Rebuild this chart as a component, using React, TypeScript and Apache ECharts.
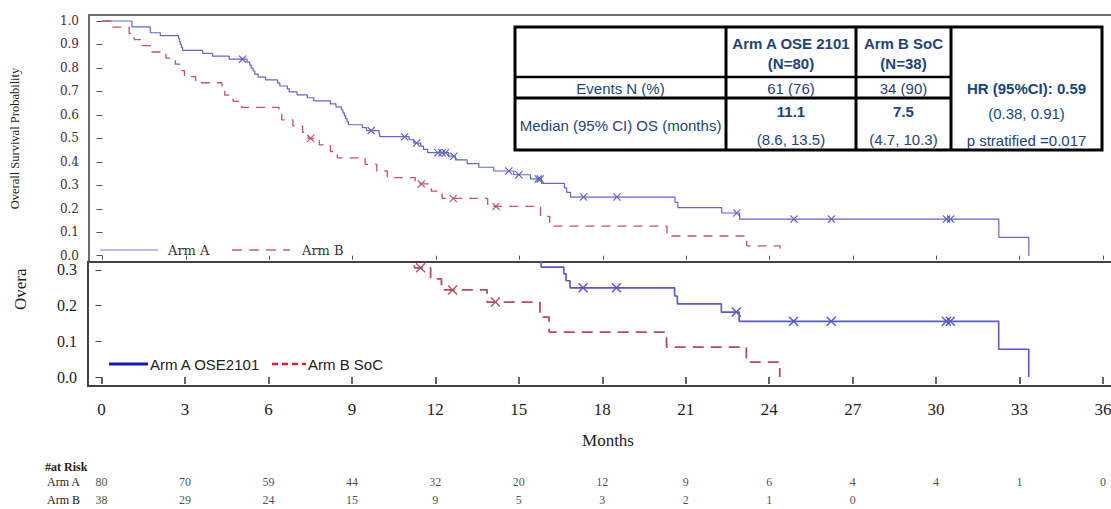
import React, { useEffect, useRef } from "react";
import * as echarts from "echarts";

// ---------- data ----------
const monthTicks = [0, 3, 6, 9, 12, 15, 18, 21, 24, 27, 30, 33, 36];
const topYTicks = [0, 0.1, 0.2, 0.3, 0.4, 0.5, 0.6, 0.7, 0.8, 0.9, 1.0];
const bottomYTicks = [0, 0.1, 0.2, 0.3];

// Arm A (OSE2101) step points: time of drop, survival after drop
const armATimes = [
  0, 1.06, 1.72, 2.08, 2.74, 2.77, 2.8, 2.84, 2.88, 3.6, 3.96, 4.56,
  5.2, 5.3, 5.35, 5.42, 5.48, 5.6, 5.87,
  6.3, 6.38, 6.65, 6.72, 7.0, 7.37, 7.6, 8.2, 8.4, 8.6, 8.65, 8.7, 8.75, 8.8, 8.85,
  9.35, 9.5, 9.95, 9.98, 11.03, 11.2, 11.45, 11.55, 11.7,
  12.46, 12.7, 13.12, 13.54, 14.08, 14.8, 15.4,
  15.8, 16.62, 16.7, 16.84, 20.6, 20.7, 22.28, 22.92, 32.25, 33.33,
];
const armASurv = [
  1.0, 0.975, 0.95, 0.9375, 0.925, 0.9125, 0.9, 0.8875, 0.875, 0.8625, 0.85, 0.8375,
  0.825, 0.812, 0.799, 0.787, 0.774, 0.761, 0.749,
  0.736, 0.723, 0.711, 0.698, 0.685, 0.673, 0.66, 0.647, 0.634, 0.622, 0.609, 0.596, 0.584, 0.571, 0.558,
  0.546, 0.533, 0.52, 0.507, 0.494, 0.48, 0.467, 0.453, 0.439,
  0.424, 0.408, 0.392, 0.377, 0.361, 0.345, 0.327,
  0.308, 0.289, 0.27, 0.25, 0.227, 0.205, 0.182, 0.156, 0.078, 0,
];
const armACensorTimes = [
  5.04, 9.67, 10.87, 11.3, 12.07, 12.22, 12.34, 12.64, 14.62, 14.98,
  15.68, 15.75, 17.31, 18.51, 22.82, 24.88, 26.23, 30.37, 30.51,
];
const armACensorSurv = [
  0.8375, 0.533, 0.507, 0.48, 0.439, 0.439, 0.439, 0.424, 0.361, 0.345,
  0.327, 0.327, 0.25, 0.25, 0.182, 0.156, 0.156, 0.156, 0.156,
];

// Arm B (SoC)
const armBTimes = [
  0, 0.33, 0.96, 1.14, 1.44, 1.74, 2.28, 2.62, 2.85, 2.95, 3.35, 4.3, 4.4, 4.7, 5.0,
  6.35, 6.45, 6.85, 7.2, 7.4, 7.8, 8.2, 8.45, 9.45, 9.87, 10.25, 11.25,
  11.83, 12.22, 13.86, 15.76, 16.09, 20.31, 23.18, 24.38,
];
const armBSurv = [
  1.0, 0.974, 0.947, 0.921, 0.895, 0.868, 0.842, 0.816, 0.789, 0.763, 0.737, 0.711, 0.684, 0.658, 0.632,
  0.605, 0.579, 0.553, 0.526, 0.5, 0.472, 0.444, 0.417, 0.389, 0.361, 0.333, 0.306,
  0.275, 0.244, 0.21, 0.168, 0.126, 0.084, 0.042, 0,
];
const armBCensorTimes = [7.49, 11.47, 12.62, 14.16];
const armBCensorSurv = [0.5, 0.306, 0.244, 0.21];

// Numbers at risk
const riskTimesA = [0, 3, 6, 9, 12, 15, 18, 21, 24, 27, 30, 33, 36];
const riskA = [80, 70, 59, 44, 32, 20, 12, 9, 6, 4, 4, 1, 0];
const riskTimesB = [0, 3, 6, 9, 12, 15, 18, 21, 24, 27];
const riskB = [38, 29, 24, 15, 9, 5, 3, 2, 1, 0];
const riskRows = ["Arm B", "Arm A"];

// ---------- layout ----------
const PX_PER_MONTH = 27.82;
const X_ZERO_PX = 101.5;
const GRID_LEFT = 88;
const GRID_WIDTH = 1040;
const CHART_W = 1140;
const X_MIN = (GRID_LEFT - X_ZERO_PX) / PX_PER_MONTH;
const X_MAX = X_MIN + GRID_WIDTH / PX_PER_MONTH;

const SERIF = "'Liberation Serif', 'Times New Roman', serif";
const SERIF_WIDE = "'DejaVu Serif', serif";
const SANS = "'Liberation Sans', Arial, sans-serif";
const TABLE_TXT = "#23437a";

const XSYM = "path://M0,1L1,0L5,4L9,0L10,1L6,5L10,9L9,10L5,6L1,10L0,9L4,5Z";

const pairs = (t: number[], v: number[]) => t.map((x, i) => [x, v[i]]);

function App() {
  const ref = useRef<HTMLDivElement>(null);

  useEffect(() => {
    if (!ref.current) return;
    const chart = echarts.init(ref.current, null, { renderer: "svg" });

    const xAxisBase = {
      type: "value",
      min: X_MIN,
      max: X_MAX,
      splitLine: { show: false },
      axisLine: { show: false },
    };

    const txt = (
      text: string,
      x: number,
      y: number,
      opts: { font?: string; fill?: string; align?: string } = {}
    ) => ({
      type: "text",
      x,
      y,
      z: 10,
      style: {
        text,
        font: opts.font || `15px ${SANS}`,
        fill: opts.fill || TABLE_TXT,
        align: opts.align || "center",
        textAlign: opts.align || "center",
        verticalAlign: "middle",
        textVerticalAlign: "middle",
      },
    });
    const hline = (x1: number, x2: number, y: number, w: number, stroke = "#000", dash?: number[]) => ({
      type: "line",
      z: 10,
      shape: { x1, y1: y, x2, y2: y },
      style: { stroke, lineWidth: w, lineDash: dash },
    });
    const vline = (x: number, y1: number, y2: number, w: number) => ({
      type: "line",
      z: 10,
      shape: { x1: x, y1, x2: x, y2 },
      style: { stroke: "#000", lineWidth: w },
    });

    const colA = 791;
    const colB = 903.5;
    const col0 = 620.5;
    const colHR = 1026.5;

    const graphic = [
      // results table
      { type: "rect", z: 9, shape: { x: 515, y: 27, width: 587, height: 123 }, style: { fill: "#fff", stroke: "#000", lineWidth: 3 } },
      vline(726, 27, 150, 3),
      vline(856, 27, 150, 3),
      vline(951, 27, 150, 3),
      hline(515, 951, 77, 2.5),
      hline(515, 951, 98, 3),
      txt("Arm A OSE 2101", colA, 43, { font: `bold 15px ${SANS}` }),
      txt("(N=80)", colA, 63, { font: `bold 15px ${SANS}` }),
      txt("Arm B SoC", colB, 43, { font: `bold 15px ${SANS}` }),
      txt("(N=38)", colB, 63, { font: `bold 15px ${SANS}` }),
      txt("Events N (%)", col0, 88),
      txt("61 (76)", colA, 88),
      txt("34 (90)", colB, 88),
      txt("Median (95% CI) OS (months)", col0, 125),
      txt("11.1", colA, 111, { font: `bold 15px ${SANS}` }),
      txt("(8.6, 13.5)", colA, 139),
      txt("7.5", colB, 111, { font: `bold 15px ${SANS}` }),
      txt("(4.7, 10.3)", colB, 139),
      txt("HR (95%CI): 0.59", colHR, 88, { font: `bold 15px ${SANS}` }),
      txt("(0.38, 0.91)", colHR, 113),
      txt("p stratified =0.017", colHR, 140),
      // top legend
      hline(100, 158, 250, 1.2, "#7a7ad6"),
      txt("Arm A", 168, 250, { font: `13px ${SERIF_WIDE}`, fill: "#333", align: "left" }),
      hline(232, 290, 250, 1.3, "#c8606e", [10, 7]),
      txt("Arm B", 302, 250, { font: `13px ${SERIF_WIDE}`, fill: "#333", align: "left" }),
      // bottom legend
      hline(109, 148, 364, 3, "#1515d0"),
      txt("Arm A OSE2101", 150, 364, { font: `15px ${SANS}`, fill: "#222", align: "left" }),
      hline(272, 306, 364, 2.5, "#e4202a", [6, 4]),
      txt("Arm B SoC", 308, 364, { font: `15px ${SANS}`, fill: "#222", align: "left" }),
      // clipped axis title of lower panel
      {
        type: "text",
        x: 20,
        y: 310,
        rotation: Math.PI / 2,
        style: {
          text: "Overa",
          font: `17px ${SERIF}`,
          fill: "#222",
          align: "left",
          textAlign: "left",
          verticalAlign: "middle",
          textVerticalAlign: "middle",
        },
      },
      // at-risk header
      txt("#at Risk", 45, 467, { font: `bold 12px ${SERIF}`, fill: "#222", align: "left" }),
    ];

    chart.setOption({
      animation: false,
      backgroundColor: "#fff",
      graphic,
      grid: [
        { left: GRID_LEFT, top: 15, width: GRID_WIDTH, height: 247, show: true, borderColor: "#6a6a6a", borderWidth: 2, backgroundColor: "transparent" },
        { left: GRID_LEFT, top: 262, width: GRID_WIDTH, height: 124, show: true, borderColor: "#444", borderWidth: 2, backgroundColor: "transparent" },
        { left: GRID_LEFT, top: 472.5, width: GRID_WIDTH, height: 38 },
      ],
      xAxis: [
        {
          ...xAxisBase,
          gridIndex: 0,
          axisTick: { show: true, inside: false, length: 4, customValues: monthTicks, lineStyle: { color: "#555" } },
          axisLabel: { show: false },
        },
        {
          ...xAxisBase,
          gridIndex: 1,
          name: "Months",
          nameLocation: "middle",
          nameGap: 46,
          nameTextStyle: { fontFamily: SERIF, fontSize: 17, color: "#222" },
          axisTick: { show: true, inside: false, length: 7, customValues: monthTicks, lineStyle: { color: "#333", width: 1.5 } },
          axisLabel: { show: true, customValues: monthTicks, margin: 15, fontFamily: SERIF, fontSize: 17, color: "#222" },
        },
        { ...xAxisBase, gridIndex: 2, show: false },
      ],
      yAxis: [
        {
          type: "value",
          gridIndex: 0,
          min: -0.0268,
          max: 1.0256,
          splitLine: { show: false },
          axisLine: { show: false },
          name: "Overall Survival Probability",
          nameLocation: "middle",
          nameRotate: 90,
          nameGap: 68,
          nameTextStyle: { fontFamily: SERIF, fontSize: 12.5, color: "#222" },
          axisTick: { show: true, inside: false, length: 6, customValues: topYTicks, lineStyle: { color: "#555" } },
          axisLabel: {
            customValues: topYTicks,
            margin: 10,
            fontFamily: SERIF_WIDE,
            fontSize: 12,
            color: "#333",
            formatter: (v: number) => v.toFixed(1),
          },
        },
        {
          type: "value",
          gridIndex: 1,
          min: -0.0252,
          max: 0.3224,
          splitLine: { show: false },
          axisLine: { show: false },
          axisTick: { show: true, inside: false, length: 6, customValues: bottomYTicks, lineStyle: { color: "#444" } },
          axisLabel: {
            customValues: bottomYTicks,
            margin: 11,
            fontFamily: SERIF,
            fontSize: 16,
            color: "#222",
            formatter: (v: number) => v.toFixed(1),
          },
        },
        {
          type: "category",
          gridIndex: 2,
          data: riskRows,
          axisLine: { show: false },
          axisTick: { show: false },
          splitLine: { show: false },
          axisLabel: { margin: 8, fontFamily: SERIF, fontSize: 12, color: "#222" },
        },
      ],
      series: [
        // top panel
        {
          type: "line", name: "Arm A", xAxisIndex: 0, yAxisIndex: 0, step: "end", symbol: "none", showSymbol: false,
          data: pairs(armATimes, armASurv), lineStyle: { color: "#6464d4", width: 1.2 }, itemStyle: { color: "#6464d4" }, clip: true, silent: true,
        },
        {
          type: "line", name: "Arm B", xAxisIndex: 0, yAxisIndex: 0, step: "end", symbol: "none", showSymbol: false,
          data: pairs(armBTimes, armBSurv), lineStyle: { color: "#c25464", width: 1.3, type: [9, 7] }, itemStyle: { color: "#c25464" }, clip: true, silent: true,
        },
        {
          type: "scatter", name: "Arm A censored", xAxisIndex: 0, yAxisIndex: 0, symbol: XSYM, symbolSize: 8,
          data: pairs(armACensorTimes, armACensorSurv), itemStyle: { color: "#3434b4" }, clip: true, silent: true,
        },
        {
          type: "scatter", name: "Arm B censored", xAxisIndex: 0, yAxisIndex: 0, symbol: XSYM, symbolSize: 8,
          data: pairs(armBCensorTimes, armBCensorSurv), itemStyle: { color: "#a8303e" }, clip: true, silent: true,
        },
        // bottom panel
        {
          type: "line", name: "Arm A OSE2101", xAxisIndex: 1, yAxisIndex: 1, step: "end", symbol: "none", showSymbol: false,
          data: pairs(armATimes, armASurv), lineStyle: { color: "#5858d2", width: 1.6 }, itemStyle: { color: "#5858d2" }, clip: true, silent: true,
        },
        {
          type: "line", name: "Arm B SoC", xAxisIndex: 1, yAxisIndex: 1, step: "end", symbol: "none", showSymbol: false,
          data: pairs(armBTimes, armBSurv), lineStyle: { color: "#b84a5a", width: 1.8, type: [11, 7] }, itemStyle: { color: "#b84a5a" }, clip: true, silent: true,
        },
        {
          type: "scatter", name: "Arm A OSE2101 censored", xAxisIndex: 1, yAxisIndex: 1, symbol: XSYM, symbolSize: 10,
          data: pairs(armACensorTimes, armACensorSurv), itemStyle: { color: "#2c2cc0" }, clip: true, silent: true,
        },
        {
          type: "scatter", name: "Arm B SoC censored", xAxisIndex: 1, yAxisIndex: 1, symbol: XSYM, symbolSize: 10,
          data: pairs(armBCensorTimes, armBCensorSurv), itemStyle: { color: "#a82c3c" }, clip: true, silent: true,
        },
        // numbers at risk
        {
          type: "scatter", name: "At risk", xAxisIndex: 2, yAxisIndex: 2, symbolSize: 1, silent: true,
          itemStyle: { color: "rgba(0,0,0,0)" },
          data: [
            ...riskTimesA.map((t, i) => [t, "Arm A", riskA[i]]),
            ...riskTimesB.map((t, i) => [t, "Arm B", riskB[i]]),
          ],
          label: {
            show: true,
            position: "inside",
            formatter: (p: any) => String(p.value[2]),
            fontFamily: SERIF,
            fontSize: 12,
            color: "#222",
          },
        },
      ],
    });

    return () => chart.dispose();
  }, []);

  return (
    <div style={{ position: "absolute", left: 0, top: 0, width: 1111, height: 509, overflow: "hidden", background: "#fff" }}>
      <div ref={ref} style={{ width: CHART_W, height: 509 }} />
    </div>
  );
}

export default App;
